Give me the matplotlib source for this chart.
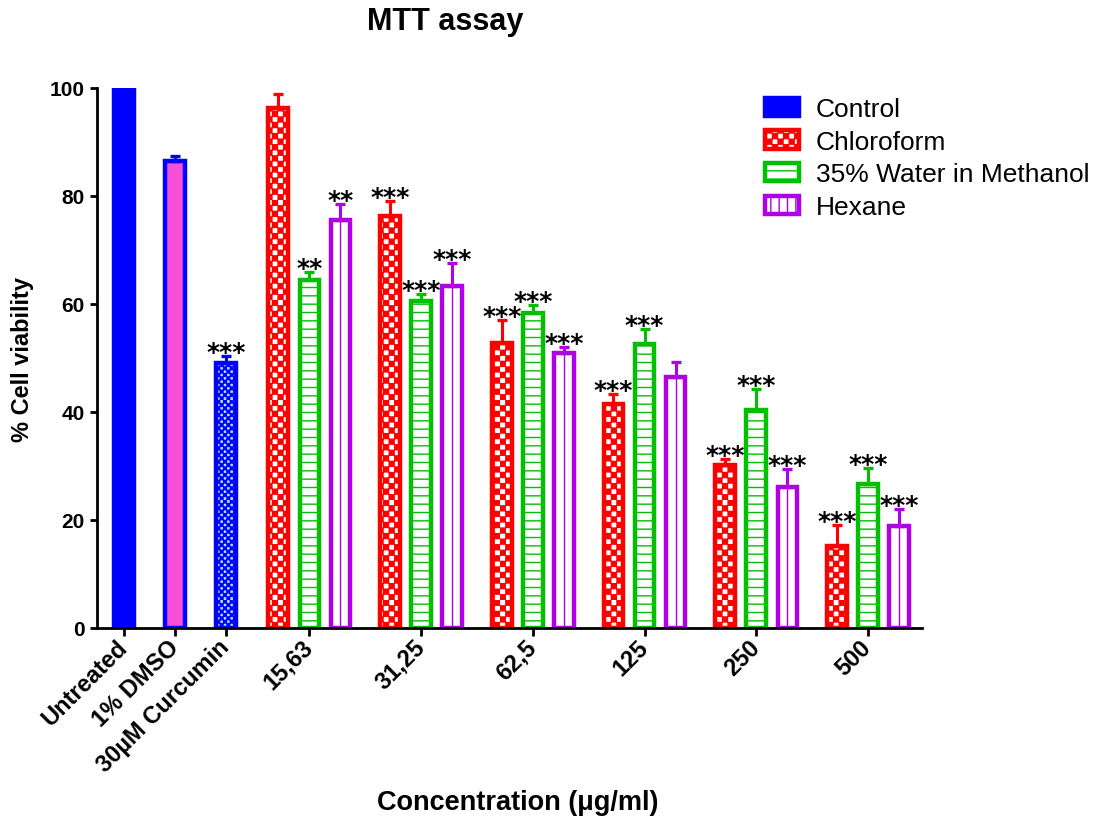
import warnings
import numpy as np
import matplotlib
matplotlib.use('Agg')
import matplotlib.pyplot as plt
import matplotlib.hatch as mhatch
from matplotlib.patches import Patch
from matplotlib.path import Path

warnings.filterwarnings('ignore')

# values
control_labels = ['Untreated', '1% DMSO', '30µM Curcumin']
control_values = [100, 86.5, 49.1]
control_err = [0, 1.0, 1.3]
control_stars = ['', '', '***']

conc_labels = ['15,63', '31,25', '62,5', '125', '250', '500']
chloroform = [96.3, 76.3, 52.8, 41.5, 30.2, 15.2]
chloroform_err = [2.6, 2.7, 4.2, 1.8, 1.1, 3.9]
chloroform_stars = ['', '***', '***', '***', '***', '***']
water_meoh = [64.4, 60.6, 58.3, 52.6, 40.4, 26.7]
water_meoh_err = [1.5, 1.3, 1.5, 2.8, 3.9, 2.9]
water_meoh_stars = ['**', '***', '***', '***', '***', '***']
hexane = [75.6, 63.3, 50.9, 46.5, 26.1, 18.9]
hexane_err = [2.9, 4.3, 1.1, 2.8, 3.3, 3.1]
hexane_stars = ['**', '***', '***', '', '***', '***']

BLUE = '#0000FF'
PINK = '#F550D7'
CYAN = '#A8E6F8'
RED = '#FF0000'
GREEN = '#00C000'
PURPLE = '#B000E6'


# checkerboard hatch, selected with '#'
class CheckerHatch(mhatch.HatchPatternBase):
    def __init__(self, hatch, density):
        self.n = hatch.count('#') * density
        self.num_vertices = 5 * sum(1 for i in range(self.n) for j in range(self.n) if (i + j) % 2 == 0)

    def set_vertices_and_codes(self, vertices, codes):
        c = 1.0 / self.n
        d = 0.003
        k = 0
        for i in range(self.n):
            for j in range(self.n):
                if (i + j) % 2:
                    continue
                x0, y0, x1, y1 = i * c + d, j * c + d, (i + 1) * c - d, (j + 1) * c - d
                vertices[k:k + 5] = [(x0, y0), (x1, y0), (x1, y1), (x0, y1), (x0, y0)]
                codes[k:k + 5] = [Path.MOVETO, Path.LINETO, Path.LINETO, Path.LINETO, Path.CLOSEPOLY]
                k += 5


mhatch._hatch_types.append(CheckerHatch)

plt.rcParams['font.family'] = ['Liberation Sans', 'DejaVu Sans']
plt.rcParams['hatch.linewidth'] = 1.0

fig = plt.figure(figsize=(10.96, 8.2), dpi=100)
ax = fig.add_axes([97 / 1096, 1 - 629 / 820, 825 / 1096, 540 / 820])

# bar positions (one unit = distance between bars of a group)
ctrl_step = 1.645
x_ctrl = np.arange(len(control_labels)) * ctrl_step
group_step = 3.6
x_group = x_ctrl[-1] + 2.68 + np.arange(len(conc_labels)) * group_step
x_chl = x_group - 1
x_wm = x_group
x_hex = x_group + 1
width = 0.63
lw = 3.2

ax.bar(x_ctrl[0], control_values[0], width, color=BLUE, edgecolor=BLUE, linewidth=lw, zorder=2)
ax.bar(x_ctrl[1], control_values[1], width, color=PINK, edgecolor=BLUE, linewidth=lw, zorder=2)
ax.bar(x_ctrl[2], control_values[2], width, color=CYAN, edgecolor=BLUE, linewidth=lw, hatch='#####', zorder=2)
ax.bar(x_chl, chloroform, width, color='white', edgecolor=RED, linewidth=lw, hatch='###', zorder=2)
ax.bar(x_wm, water_meoh, width, color='white', edgecolor=GREEN, linewidth=lw, hatch='--', zorder=2)
ax.bar(x_hex, hexane, width, color='white', edgecolor=PURPLE, linewidth=lw, zorder=2)
ax.vlines(x_hex, 0, hexane, color=PURPLE, linewidth=1.0, zorder=2)

ekw = dict(fmt='none', elinewidth=2.2, capsize=3.3, capthick=2.4, zorder=3)
ax.errorbar(x_ctrl[1:], control_values[1:], yerr=[np.zeros(2), control_err[1:]], ecolor=BLUE, **ekw)
ax.errorbar(x_chl, chloroform, yerr=[np.zeros(6), chloroform_err], ecolor=RED, **ekw)
ax.errorbar(x_wm, water_meoh, yerr=[np.zeros(6), water_meoh_err], ecolor=GREEN, **ekw)
ax.errorbar(x_hex, hexane, yerr=[np.zeros(6), hexane_err], ecolor=PURPLE, **ekw)


def add_stars(xs, vals, errs, marks):
    for x, v, e, m in zip(xs, vals, errs, marks):
        if m:
            ax.annotate(m, (x, v + e), xytext=(0, -2), textcoords='offset points',
                        ha='center', va='baseline', fontsize=18, fontweight='bold',
                        family='DejaVu Sans')


add_stars(x_ctrl, control_values, control_err, control_stars)
add_stars(x_chl, chloroform, chloroform_err, chloroform_stars)
add_stars(x_wm, water_meoh, water_meoh_err, water_meoh_stars)
add_stars(x_hex, hexane, hexane_err, hexane_stars)

ax.set_xlim(x_ctrl[0] - 0.87, x_hex[-1] + 0.74)
ax.set_ylim(0, 100)
ax.set_yticks([0, 20, 40, 60, 80, 100])
ax.set_xticks(np.concatenate([x_ctrl, x_group]))
ax.set_xticklabels(control_labels + conc_labels, rotation=45, ha='right', va='center',
                   rotation_mode='anchor', fontsize=17, fontweight='bold')
for t in ax.get_yticklabels():
    t.set_fontsize(15)
    t.set_fontweight('bold')
ax.tick_params(axis='x', direction='out', width=2, length=6, pad=5)
ax.tick_params(axis='y', direction='out', width=2, length=5, pad=4)
for s in ['top', 'right']:
    ax.spines[s].set_visible(False)
for s in ['left', 'bottom']:
    ax.spines[s].set_linewidth(2)

ax.set_ylabel('% Cell viability', fontsize=17, fontweight='bold')
ax.yaxis.set_label_coords(-0.076, 0.5)
fig.text(518 / 1096, 1 - 803 / 820, 'Concentration (μg/ml)', ha='center', va='center',
         fontsize=19.5, fontweight='bold')
fig.text(445 / 1096, 1 - 22 / 820, 'MTT assay', ha='center', va='center',
         fontsize=22, fontweight='bold')

handles = [
    Patch(facecolor=BLUE, edgecolor=BLUE, linewidth=lw, label='Control'),
    Patch(facecolor='white', edgecolor=RED, linewidth=lw, hatch='###', label='Chloroform'),
    Patch(facecolor='white', edgecolor=GREEN, linewidth=lw, hatch='--', label='35% Water in Methanol'),
    Patch(facecolor='white', edgecolor=PURPLE, linewidth=lw, hatch='||', label='Hexane'),
]
ax.legend(handles=handles, loc='upper left', bbox_to_anchor=(765 / 1096, 1 - 98 / 820),
          bbox_transform=fig.transFigure, frameon=False, fontsize=19, handlelength=1.3,
          handleheight=0.68, handletextpad=0.62, labelspacing=0.33, borderpad=0, borderaxespad=0)

fig.savefig('out.png', dpi=100)
